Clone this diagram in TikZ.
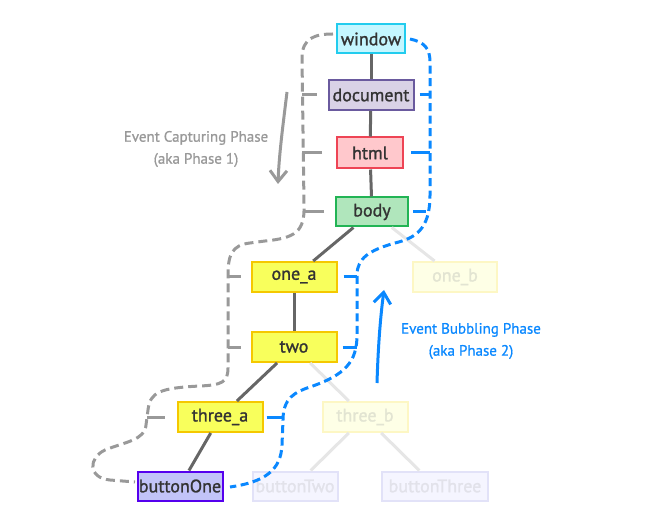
\documentclass[tikz,border=0pt]{standalone}
\usepackage{fontspec}
\setmainfont{PT Sans}
\newfontfamily\semibf{PT Sans}[FakeBold=1.3]
\newfontfamily\labelbf{PT Sans}[FakeBold=0.9]
\usetikzlibrary{arrows.meta}
\definecolor{txt}{HTML}{333333}
\definecolor{edgedark}{HTML}{666666}
\definecolor{edgelight}{HTML}{E6E6E6}
\definecolor{capgray}{HTML}{999999}
\definecolor{bubblue}{HTML}{0A88FF}
\definecolor{winfill}{HTML}{C4F6FF}\definecolor{windraw}{HTML}{22CCEE}
\definecolor{docfill}{HTML}{D9D2E6}\definecolor{docdraw}{HTML}{6A5A9E}
\definecolor{htmlfill}{HTML}{FFC8CC}\definecolor{htmldraw}{HTML}{EE4455}
\definecolor{bodyfill}{HTML}{B0E6BC}\definecolor{bodydraw}{HTML}{22B455}
\definecolor{yelfill}{HTML}{F8FF5C}\definecolor{yeldraw}{HTML}{F5C800}
\definecolor{fyfill}{HTML}{FEFFE6}\definecolor{fydraw}{HTML}{FDF7C4}\definecolor{fytxt}{HTML}{E2E4D2}
\definecolor{btnfill}{HTML}{C2C4F8}\definecolor{btndraw}{HTML}{5500EE}
\definecolor{fbfill}{HTML}{F5F5FF}\definecolor{fbdraw}{HTML}{E2E2F8}\definecolor{fbtxt}{HTML}{E2E2EA}
\tikzset{
  box/.style={draw, line width=2pt, inner sep=0pt, text=txt,
    font=\semibf\fontsize{18}{20}\selectfont, minimum height=30pt},
  treedark/.style={draw=edgedark, line width=3pt},
  treelight/.style={draw=edgelight, line width=3pt},
  cappath/.style={draw=capgray, line width=3pt, dash pattern=on 9pt off 5pt},
  bubpath/.style={draw=bubblue, line width=3pt, dash pattern=on 8pt off 4.5pt},
  captick/.style={draw=capgray, line width=3pt},
  bubtick/.style={draw=bubblue, line width=3pt},
  phaselabel/.style={align=center, font=\labelbf\fontsize{15}{22}\selectfont}
}
\begin{document}
\begin{tikzpicture}[x=1pt,y=-1pt]
\useasboundingbox (0,0) rectangle (655,526);
% nodes
\node[box, fill=winfill, draw=windraw, minimum width=68pt, minimum height=29pt] (window) at (371,39) {window};
\node[box, fill=docfill, draw=docdraw, minimum width=85pt] (document) at (371,95) {document};
\node[box, fill=htmlfill, draw=htmldraw, minimum width=66pt, minimum height=31pt] (html) at (370,153) {html};
\node[box, fill=bodyfill, draw=bodydraw, minimum width=72pt, minimum height=29pt] (body) at (372,212) {body};
\node[box, fill=yelfill, draw=yeldraw, minimum width=85pt] (onea) at (294,277) {one\_a};
\node[box, fill=fyfill, draw=fydraw, text=fytxt, minimum width=84pt] (oneb) at (455,277) {one\_b};
\node[box, fill=yelfill, draw=yeldraw, minimum width=85pt] (two) at (294,347) {two};
\node[box, fill=yelfill, draw=yeldraw, minimum width=85pt] (threea) at (220,417) {three\_a};
\node[box, fill=fyfill, draw=fydraw, text=fytxt, minimum width=85pt] (threeb) at (365,417) {three\_b};
\node[box, fill=btnfill, draw=btndraw, minimum width=85pt, minimum height=29pt] (btnone) at (180,486) {buttonOne};
\node[box, fill=fbfill, draw=fbdraw, text=fbtxt, minimum width=85pt, minimum height=29pt] (btntwo) at (295,486) {buttonTwo};
\node[box, fill=fbfill, draw=fbdraw, text=fbtxt, minimum width=106pt, minimum height=29pt] (btnthree) at (435,486) {buttonThree};
% tree edges
\draw[treedark] (window) -- (document);
\draw[treedark] (document) -- (html);
\draw[treedark] (html) -- (body);
\draw[treedark] (body) -- (onea);
\draw[treelight] (body) -- (oneb);
\draw[treedark] (onea) -- (two);
\draw[treedark] (two) -- (threea);
\draw[treelight] (two) -- (threeb);
\draw[treedark] (threea) -- (btnone);
\draw[treelight] (threeb) -- (btntwo);
\draw[treelight] (threeb) -- (btnthree);
% capturing path
\draw[cappath] (333,34) .. controls (315,34) and (302,38) .. (302,58)
  -- (304,205) .. controls (305,232) and (295,238) .. (265,241)
  -- (250,243) .. controls (232,245) and (228,255) .. (228,275)
  -- (228,368) .. controls (228,382) and (222,385) .. (200,386)
  .. controls (160,388) and (150,392) .. (148,410)
  -- (146,425) .. controls (145,440) and (125,442) .. (105,450)
  .. controls (88,458) and (88,478) .. (110,480) -- (135,482);
\draw[captick] ([xshift=-11pt]document.west) -- (302,95);
\draw[captick] ([xshift=-14pt]html.west) -- (302,153);
\draw[captick] ([xshift=-11pt]body.west) -- (304,212);
\draw[captick] ([xshift=-10pt]onea.west) -- (228,277);
\draw[captick] ([xshift=-10pt]two.west) -- (228,347);
\draw[captick] ([xshift=-12pt]threea.west) -- (147,417);
% bubbling path
\draw[bubpath] (410,39) .. controls (424,42) and (430,48) .. (430,62)
  -- (430,195) .. controls (430,230) and (415,238) .. (395,243)
  .. controls (370,250) and (357,258) .. (357,275)
  -- (357,335) .. controls (357,362) and (345,375) .. (310,387)
  .. controls (295,392) and (283,398) .. (283,420)
  -- (282,445) .. controls (281,470) and (265,482) .. (230,487);
\draw[bubtick] ([xshift=5pt]document.east) -- (430,95);
\draw[bubtick] ([xshift=7pt]html.east) -- (430,153);
\draw[bubtick] ([xshift=4pt]body.east) -- (426,212);
\draw[bubtick] ([xshift=6pt]onea.east) -- (357,277);
\draw[bubtick] ([xshift=5pt]two.east) -- (357,347);
\draw[bubtick] ([xshift=3pt]threea.east) -- (283,417);
% phase arrows and labels
\coordinate (capstart) at (287,92);
\coordinate (capend) at (278,184);
\draw[capgray, line width=3pt, -{Straight Barb[length=11pt,width=17pt]}] (capstart) .. controls (283,125) and (279,155) .. (capend);
\node[phaselabel, text=capgray] (caplabel) at (196,149) {Event Capturing Phase\\(aka Phase 1)};
\coordinate (bubstart) at (377,383);
\coordinate (bubend) at (384,290);
\draw[bubblue, line width=3pt, -{Straight Barb[length=11pt,width=17pt]}] (bubstart) .. controls (378,350) and (380,320) .. (bubend);
\node[phaselabel, text=bubblue] (bublabel) at (471,341) {Event Bubbling Phase\\(aka Phase 2)};
\end{tikzpicture}
\end{document}
